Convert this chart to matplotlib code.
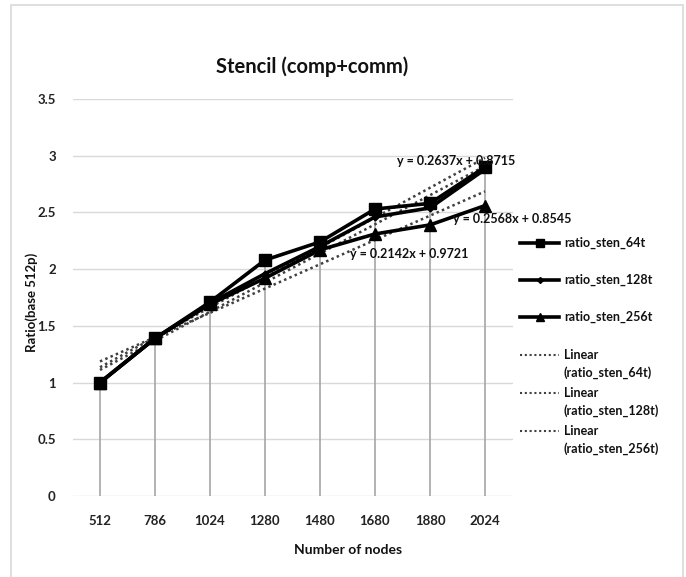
import matplotlib
matplotlib.use("Agg")
import matplotlib.pyplot as plt
from matplotlib.lines import Line2D
from matplotlib.patches import Rectangle
import numpy as np

plt.rcParams['font.family'] = ['Lato', 'DejaVu Sans']

# Node counts (category axis) and ratios relative to the 512-node run
nodes = ["512", "786", "1024", "1280", "1480", "1680", "1880", "2024"]
ratio_sten_64t = [1.00, 1.39, 1.71, 2.08, 2.24, 2.53, 2.58, 2.90]
ratio_sten_128t = [1.00, 1.39, 1.70, 1.96, 2.20, 2.46, 2.54, 2.88]
ratio_sten_256t = [1.00, 1.39, 1.69, 1.92, 2.17, 2.31, 2.39, 2.56]

# Linear trend fits (slope, intercept) over category index 1..8
trend_64t = (0.2637, 0.8715)
trend_128t = (0.2568, 0.8545)
trend_256t = (0.2142, 0.9721)

y_ticks = [0, 0.5, 1, 1.5, 2, 2.5, 3, 3.5]
y_tick_labels = ["0", "0.5", "1", "1.5", "2", "2.5", "3", "3.5"]

W, H = 686, 577
fig = plt.figure(figsize=(W / 100, H / 100), dpi=100)
fig.patch.set_facecolor("white")

# outer chart frame
fig.add_artist(Rectangle((11 / W, 1 - 600 / H), (683 - 11) / W, (600 - 5) / H,
                         transform=fig.transFigure, fill=False,
                         edgecolor="#d9d9d9", linewidth=1.2))

ax = fig.add_axes([72.5 / W, 1 - 496 / H, 440 / W, (496 - 99) / H])
x = np.arange(len(nodes))

ax.set_xlim(-0.5, len(nodes) - 0.5)
ax.set_ylim(0, 3.5)
for s in ax.spines.values():
    s.set_visible(False)
ax.yaxis.grid(True, color="#d9d9d9", linewidth=1.0)
ax.set_axisbelow(True)
ax.tick_params(length=0, labelsize=9.5, colors="#222222")
ax.set_yticks(y_ticks)
ax.set_yticklabels(y_tick_labels, fontweight="bold")
ax.set_xticks(x)
ax.set_xticklabels(nodes, fontweight="bold")
ax.tick_params(axis="y", pad=12)
ax.tick_params(axis="x", pad=14)

# drop lines from the highest point at each category
tops = np.max([ratio_sten_64t, ratio_sten_128t, ratio_sten_256t], axis=0)
ax.vlines(x, 0, tops, color="#a6a6a6", linewidth=1.2, zorder=1)

# linear trendlines
xt = np.array([0, len(nodes) - 1])
for slope, icpt in (trend_64t, trend_128t, trend_256t):
    ax.plot(xt, slope * (xt + 1) + icpt, linestyle=(0, (1, 1.3)),
            color="#404040", linewidth=1.8, zorder=2)

ax.plot(x, ratio_sten_256t, color="black", linewidth=2.6, marker="^",
        markersize=8, zorder=3)
ax.plot(x, ratio_sten_128t, color="black", linewidth=2.6, marker="D",
        markersize=3.5, zorder=4)
ax.plot(x, ratio_sten_64t, color="black", linewidth=2.6, marker="s",
        markersize=8, zorder=5)

# trendline equations
eq_kw = dict(fontsize=9, fontweight="bold", color="#111111", clip_on=False, zorder=6)
ax.text(5.40, 2.95, "y = %.4fx + %.4f" % trend_64t, ha="left", va="center", **eq_kw)
ax.text(6.42, 2.44, "y = %.4fx + %.4f" % trend_128t, ha="left", va="center", **eq_kw)
ax.text(4.55, 2.13, "y = %.4fx + %.4f" % trend_256t, ha="left", va="center", **eq_kw)

fig.text(312 / W, 1 - 67 / H, "Stencil (comp+comm)", fontsize=14.5,
         fontweight="bold", color="#111111", ha="center", va="center")
fig.text(348 / W, 1 - 550 / H, "Number of nodes", fontsize=10,
         fontweight="bold", color="#111111", ha="center", va="center")
fig.text(32 / W, 1 - 302 / H, "Ratio(base 512p)", rotation=90, fontsize=9.5,
         fontweight="bold", color="#111111", ha="center", va="center")

# legend
def fy(py):
    return 1 - py / H

entries = [
    (243, "ratio_sten_64t", "s", 6, "-", None),
    (280, "ratio_sten_128t", "D", 3, "-", None),
    (317, "ratio_sten_256t", "^", 6, "-", None),
    (355, "Linear", None, 0, ":", "(ratio_sten_64t)"),
    (393, "Linear", None, 0, ":", "(ratio_sten_128t)"),
    (431, "Linear", None, 0, ":", "(ratio_sten_256t)"),
]
for py, label, mk, ms, ls, second in entries:
    if ls == "-":
        ln = Line2D([520 / W, 539.5 / W, 559 / W], [fy(py)] * 3,
                    transform=fig.transFigure, color="black", linewidth=2.6,
                    marker=mk, markersize=ms, markevery=[1])
    else:
        ln = Line2D([520 / W, 559 / W], [fy(py)] * 2, transform=fig.transFigure,
                    color="#404040", linewidth=1.5, linestyle=(0, (1, 1.3)))
    fig.add_artist(ln)
    fig.text(564 / W, fy(py), label, fontsize=9, fontweight="bold",
             color="#111111", ha="left", va="center")
    if second:
        fig.text(564 / W, fy(py + 18), second, fontsize=9, fontweight="bold",
                 color="#111111", ha="left", va="center")

fig.savefig("out.png", dpi=100)
